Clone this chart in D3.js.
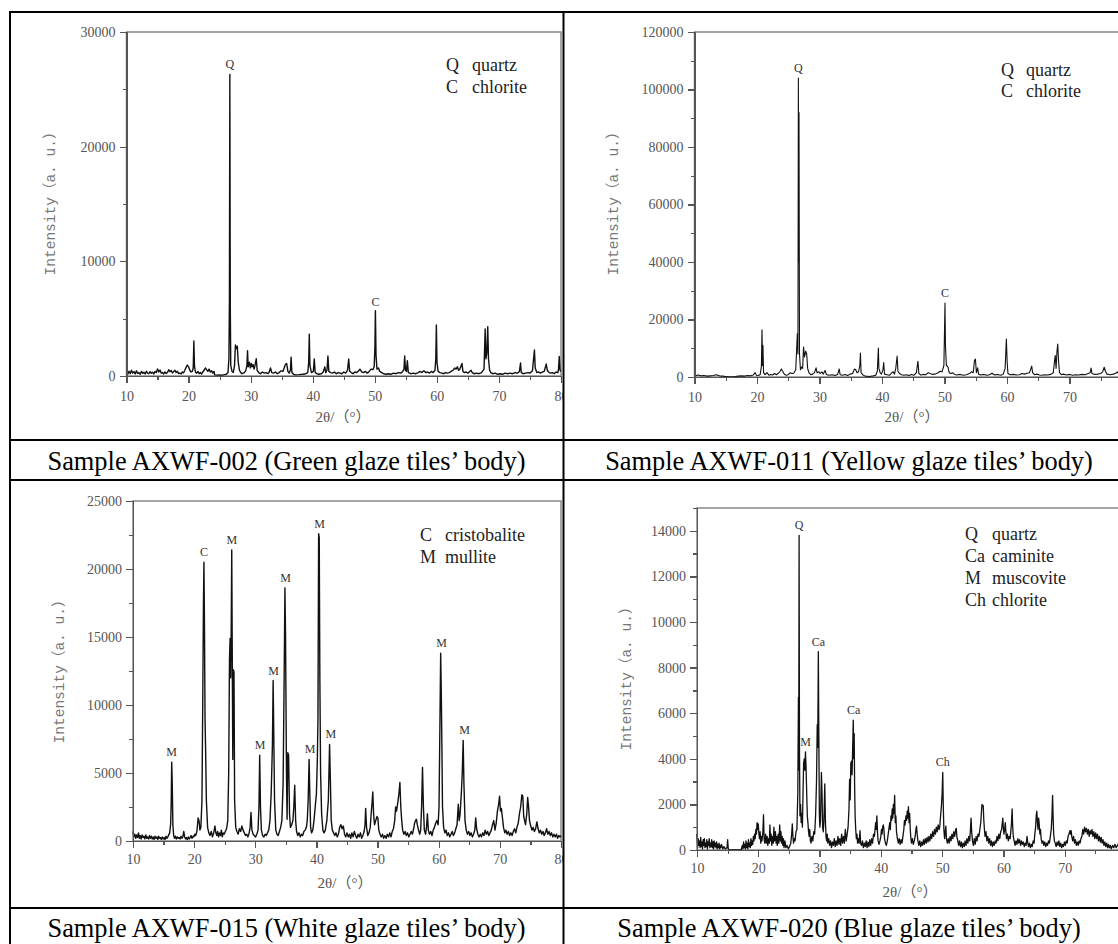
<!DOCTYPE html>
<meta charset="utf-8">
<style>
	body { margin: 0; background: #fff; }
	.axis path,
	.axis line { stroke: #555; stroke-width: 1.2; shape-rendering: crispEdges; }
	.axis text { font-family: "Liberation Serif", serif; font-size: 14px; fill: #555; }
	.trace { fill: none; stroke: #111; stroke-linejoin: round; }
	.frame { fill: none; stroke: #888; stroke-width: 1.5; }
	.ytitle { font-family: "Liberation Mono", "Noto Sans CJK SC", monospace; font-size: 14.5px; fill: #777; }
	.xtitle { font-family: "Liberation Serif", "Noto Sans CJK SC", serif; font-size: 15px; fill: #555; }
	.legend { font-family: "Liberation Serif", serif; font-size: 18px; fill: #222; }
	.mark { font-family: "Liberation Serif", serif; font-size: 12px; fill: #333; text-anchor: middle; }
	.caption { font-family: "Liberation Serif", serif; font-size: 26.4px; fill: #000; text-anchor: middle; }
	.rule { stroke: #000; stroke-width: 2; }
</style>

<div id="chart"></div>

<script src="https://d3js.org/d3.v7.min.js"></script>

<script>
	// captions under each pattern
	var captions = [
		"Sample AXWF-002 (Green glaze tiles\u2019 body)",
		"Sample AXWF-011 (Yellow glaze tiles\u2019 body)",
		"Sample AXWF-015 (White glaze tiles\u2019 body)",
		"Sample AXWF-020 (Blue glaze tiles\u2019 body)"
	];

	var xTicks = [10, 20, 30, 40, 50, 60, 70, 80];
	var yTicks002 = [0, 10000, 20000, 30000];
	var yTicks011 = [0, 20000, 40000, 60000, 80000, 100000, 120000];
	var yTicks015 = [0, 5000, 10000, 15000, 20000, 25000];
	var yTicks020 = [0, 2000, 4000, 6000, 8000, 10000, 12000, 14000];

	var legend002 = [["Q", "quartz"], ["C", "chlorite"]];
	var legend011 = [["Q", "quartz"], ["C", "chlorite"]];
	var legend015 = [["C", "cristobalite"], ["M", "mullite"]];
	var legend020 = [["Q", "quartz"], ["Ca", "caminite"], ["M", "muscovite"], ["Ch", "chlorite"]];

	// peak labels: [phase, 2theta, intensity of peak top]
	var marks002 = [["Q", 26.65, 26300], ["C", 50.1, 5600]];
	var marks011 = [["Q", 26.62, 104000], ["C", 50.08, 25700]];
	var marks015 = [["M", 16.33, 5800], ["C", 21.6, 20500], ["M", 26.15, 21400], ["M", 30.8, 6300],
		["M", 33.0, 11800], ["M", 34.95, 18600], ["M", 38.95, 6000], ["M", 40.5, 22600],
		["M", 42.35, 7100], ["M", 60.45, 13800], ["M", 64.25, 7400]];
	var marks020 = [["Q", 26.66, 13800], ["M", 27.7, 4300], ["Ca", 29.8, 8700], ["Ca", 35.55, 5700], ["Ch", 50.1, 3400]];

	// diffraction patterns: [2theta, intensity]
	var xrd002 = [[10.0,350],[10.2,150],[10.4,420],[10.6,200],[10.8,500],[11.0,250],[11.2,380],[11.4,180],[11.6,450],[11.8,220],[12.0,300],[12.2,150],[12.4,400],[12.6,230],[12.8,330],[13.0,180],[13.2,420],[13.4,260],[13.6,200],[13.8,380],[14.0,240],[14.2,330],[14.4,180],[14.6,400],[14.8,300],[15.0,620],[15.2,350],[15.4,520],[15.6,250],[15.8,300],[16.0,180],[16.2,350],[16.4,220],[16.6,300],[16.8,550],[17.0,380],[17.2,480],[17.4,260],[17.6,400],[17.8,500],[18.0,300],[18.2,420],[18.4,200],[18.6,260],[18.8,180],[19.0,350],[19.2,280],[19.4,500],[19.6,750],[19.8,950],[20.0,800],[20.2,500],[20.4,350],[20.6,400],[20.75,700],[20.85,3050],[20.95,900],[21.1,350],[21.3,250],[21.5,400],[21.7,200],[21.9,300],[22.1,180],[22.3,350],[22.5,500],[22.7,700],[22.9,550],[23.1,400],[23.3,600],[23.5,350],[23.7,450],[23.9,250],[24.1,400],[24.2,100],[24.6,80],[25.0,100],[25.4,80],[25.8,120],[26.1,150],[26.35,300],[26.5,1500],[26.58,6500],[26.65,26300],[26.72,6000],[26.8,900],[27.0,400],[27.2,300],[27.4,900],[27.55,2700],[27.7,2400],[27.85,2600],[28.0,1200],[28.2,500],[28.4,300],[28.6,200],[28.8,250],[29.0,300],[29.2,450],[29.4,900],[29.5,2200],[29.6,800],[29.8,1200],[29.95,700],[30.1,1100],[30.25,800],[30.4,1000],[30.55,600],[30.7,900],[30.9,1500],[31.05,500],[31.3,300],[31.6,200],[31.9,350],[32.2,250],[32.5,300],[32.8,200],[33.0,350],[33.2,700],[33.4,300],[33.7,250],[34.0,350],[34.3,200],[34.6,300],[34.9,450],[35.2,400],[35.4,700],[35.6,1000],[35.8,1100],[36.0,400],[36.2,250],[36.4,500],[36.52,1650],[36.65,300],[36.9,150],[37.2,100],[37.8,120],[38.4,150],[38.9,200],[39.2,300],[39.35,1200],[39.45,3650],[39.55,900],[39.8,300],[40.1,400],[40.25,1480],[40.4,300],[40.7,200],[41.0,150],[41.4,200],[41.7,350],[41.95,800],[42.1,300],[42.3,500],[42.45,1740],[42.6,400],[42.9,300],[43.2,250],[43.5,350],[43.8,200],[44.1,300],[44.4,250],[44.7,200],[45.0,350],[45.3,250],[45.6,500],[45.8,1480],[45.95,400],[46.2,300],[46.5,200],[46.8,350],[47.1,300],[47.4,450],[47.6,600],[47.9,350],[48.2,300],[48.5,400],[48.8,250],[49.1,400],[49.4,600],[49.7,550],[49.9,800],[50.02,2500],[50.1,5700],[50.2,1800],[50.35,600],[50.6,700],[50.8,400],[51.1,300],[51.4,200],[51.8,150],[52.2,200],[52.6,150],[53.0,250],[53.4,200],[53.8,300],[54.2,250],[54.5,400],[54.7,600],[54.82,1740],[54.95,500],[55.1,400],[55.25,1330],[55.4,300],[55.8,200],[56.2,250],[56.6,200],[57.0,300],[57.3,400],[57.6,300],[57.9,450],[58.2,300],[58.5,350],[58.8,250],[59.1,400],[59.4,300],[59.7,500],[59.83,1500],[59.92,4450],[60.02,1200],[60.2,400],[60.5,300],[60.8,250],[61.1,200],[61.4,300],[61.7,250],[62.0,300],[62.3,400],[62.6,500],[62.9,700],[63.1,600],[63.3,800],[63.5,500],[63.7,600],[64.05,1100],[64.2,400],[64.4,300],[64.7,350],[65.0,250],[65.2,350],[65.5,500],[65.7,300],[66.0,200],[66.4,250],[66.8,200],[67.2,300],[67.6,600],[67.78,4100],[67.9,1500],[68.05,2000],[68.2,4300],[68.32,1500],[68.5,500],[68.7,300],[69.0,200],[69.4,250],[69.8,150],[70.2,200],[70.6,150],[71.0,250],[71.4,200],[71.8,250],[72.2,200],[72.6,300],[73.0,250],[73.3,400],[73.48,1130],[73.6,300],[73.9,200],[74.3,250],[74.7,300],[75.0,250],[75.4,450],[75.72,2270],[75.85,700],[76.1,300],[76.4,350],[76.7,250],[77.0,350],[77.3,400],[77.62,1050],[77.8,500],[78.0,350],[78.3,250],[78.6,300],[78.9,200],[79.2,350],[79.5,300],[79.6,600],[79.72,1700],[79.85,500],[80.0,400]];

	var xrd011 = [[10.0,800],[10.3,500],[10.6,700],[11.0,400],[11.5,500],[12.0,300],[12.5,400],[13.0,500],[13.5,800],[14.0,400],[14.5,300],[15.0,200],[15.5,100],[16.0,100],[16.5,150],[17.0,300],[17.5,400],[18.0,300],[18.5,500],[19.0,400],[19.4,700],[19.7,1500],[19.9,600],[20.2,500],[20.5,800],[20.7,3500],[20.8,16400],[20.88,4000],[20.95,11000],[21.05,1500],[21.3,800],[21.6,1500],[21.9,600],[22.2,900],[22.5,700],[22.8,1200],[23.1,800],[23.4,1300],[23.7,2000],[23.9,2800],[24.1,2000],[24.4,900],[24.7,600],[25.0,800],[25.3,1500],[25.6,1200],[25.9,1400],[26.2,2500],[26.45,15000],[26.55,8000],[26.62,104000],[26.68,40000],[26.72,92000],[26.8,8000],[26.95,2500],[27.15,3500],[27.3,3000],[27.45,10400],[27.6,7000],[27.8,9000],[27.95,8000],[28.1,3000],[28.3,1500],[28.6,800],[28.9,1000],[29.2,1500],[29.45,3200],[29.6,1500],[29.9,1800],[30.1,1200],[30.4,1800],[30.6,1000],[30.9,2300],[31.1,900],[31.5,600],[32.0,800],[32.5,500],[32.9,900],[33.15,2800],[33.3,800],[33.7,600],[34.1,900],[34.5,500],[34.9,1000],[35.3,1200],[35.6,2800],[35.8,2500],[36.0,1500],[36.25,1800],[36.45,4000],[36.55,8300],[36.65,1500],[36.9,800],[37.3,300],[38.0,200],[38.6,400],[39.0,600],[39.25,2000],[39.42,10100],[39.5,3000],[39.7,1500],[39.9,1000],[40.15,2500],[40.27,5000],[40.4,1000],[40.8,800],[41.2,600],[41.6,1500],[41.8,1800],[42.0,1000],[42.2,3000],[42.42,7300],[42.55,2000],[42.8,1200],[43.1,800],[43.5,600],[43.9,800],[44.3,500],[44.7,900],[45.1,600],[45.5,1500],[45.75,5500],[45.9,1200],[46.2,700],[46.6,900],[47.0,800],[47.4,1500],[47.7,1200],[48.1,900],[48.5,1000],[48.9,1400],[49.3,2000],[49.6,1800],[49.9,4000],[50.08,25700],[50.15,11000],[50.3,4000],[50.55,3500],[50.75,1500],[51.0,1200],[51.3,1500],[51.6,900],[52.0,700],[52.5,900],[53.0,600],[53.5,800],[54.0,1200],[54.3,1800],[54.6,1500],[54.8,5800],[54.95,6200],[55.1,1500],[55.3,3200],[55.45,1000],[55.8,700],[56.3,900],[56.8,600],[57.2,800],[57.6,1300],[58.0,700],[58.5,900],[59.0,600],[59.4,1000],[59.7,3000],[59.9,13200],[60.02,5500],[60.15,1200],[60.5,800],[61.0,900],[61.5,700],[62.0,800],[62.4,1200],[62.8,1000],[63.2,1300],[63.6,1500],[63.95,3800],[64.1,1500],[64.4,800],[64.8,1000],[65.2,700],[65.6,600],[66.0,800],[66.5,700],[67.0,900],[67.4,1500],[67.6,5500],[67.72,7500],[67.85,3000],[68.0,9000],[68.12,11500],[68.25,5500],[68.4,1500],[68.7,800],[69.0,1000],[69.5,700],[70.0,900],[70.5,600],[71.0,800],[71.5,700],[72.0,900],[72.5,800],[73.0,1200],[73.3,1500],[73.45,3100],[73.6,1200],[74.0,900],[74.5,1000],[75.0,1200],[75.3,1800],[75.55,3400],[75.75,2000],[76.0,1000],[76.5,800],[77.0,1000],[77.4,1300],[77.65,1800],[77.9,1000],[78.3,900],[78.8,800],[79.3,1200],[79.6,2000],[79.85,2800],[80.0,1000]];

	var xrd015 = [[10.0,700],[10.15,300],[10.3,500],[10.45,200],[10.6,450],[10.75,250],[10.9,600],[11.05,200],[11.2,400],[11.35,150],[11.5,450],[11.65,250],[11.8,350],[11.95,150],[12.1,450],[12.25,200],[12.4,300],[12.55,150],[12.7,400],[12.85,200],[13.0,350],[13.15,150],[13.3,300],[13.45,100],[13.6,350],[13.75,200],[13.9,300],[14.05,100],[14.2,350],[14.35,200],[14.5,250],[14.65,100],[14.8,300],[14.95,150],[15.1,250],[15.25,100],[15.4,350],[15.55,200],[15.7,300],[15.85,450],[16.0,600],[16.15,1200],[16.25,2800],[16.33,5800],[16.42,4200],[16.52,1200],[16.65,400],[16.8,200],[16.95,350],[17.1,150],[17.25,300],[17.4,200],[17.55,250],[17.7,150],[17.85,350],[18.0,200],[18.15,300],[18.3,700],[18.45,300],[18.6,150],[18.75,250],[18.9,100],[19.05,300],[19.2,150],[19.35,250],[19.5,400],[19.65,200],[19.8,350],[19.95,300],[20.1,500],[20.25,400],[20.45,700],[20.65,1700],[20.8,1500],[20.95,800],[21.1,1000],[21.28,3000],[21.42,11000],[21.52,17300],[21.6,20500],[21.68,16500],[21.78,9000],[21.88,6600],[22.0,3000],[22.2,1000],[22.4,600],[22.6,400],[22.8,700],[23.0,300],[23.2,600],[23.4,1100],[23.55,600],[23.7,400],[23.85,700],[24.0,300],[24.15,600],[24.3,400],[24.45,800],[24.6,300],[24.75,600],[24.9,500],[25.1,700],[25.3,900],[25.5,1500],[25.65,5000],[25.78,13300],[25.88,14900],[25.98,12000],[26.07,16000],[26.15,21400],[26.22,15000],[26.32,6000],[26.42,12600],[26.52,12400],[26.62,3000],[26.8,1000],[27.0,700],[27.2,500],[27.4,900],[27.6,700],[27.8,1100],[28.0,800],[28.2,600],[28.4,400],[28.6,500],[28.8,300],[29.0,600],[29.15,1000],[29.3,2100],[29.45,800],[29.65,500],[29.85,400],[30.05,300],[30.25,500],[30.45,800],[30.6,2500],[30.72,6300],[30.85,2500],[31.0,800],[31.2,400],[31.4,300],[31.6,500],[31.8,400],[32.0,600],[32.2,800],[32.4,1500],[32.6,3500],[32.8,7000],[32.92,11800],[33.02,8000],[33.15,3000],[33.35,800],[33.55,500],[33.75,400],[33.95,700],[34.15,1000],[34.35,1500],[34.55,4200],[34.72,12000],[34.85,18600],[34.95,15000],[35.1,5000],[35.2,1600],[35.32,6500],[35.45,6300],[35.6,2000],[35.75,1000],[35.95,1200],[36.15,1500],[36.3,2500],[36.45,4100],[36.6,1500],[36.75,700],[36.95,400],[37.15,600],[37.35,300],[37.55,500],[37.75,400],[37.95,700],[38.15,800],[38.35,1000],[38.5,1500],[38.65,3000],[38.8,6000],[38.92,3500],[39.05,1000],[39.2,600],[39.4,800],[39.6,1500],[39.8,2500],[40.0,3500],[40.15,6000],[40.25,9000],[40.36,22600],[40.46,22300],[40.56,12000],[40.68,5000],[40.85,2000],[41.05,800],[41.25,600],[41.45,800],[41.7,1500],[41.95,3000],[42.15,7100],[42.28,4500],[42.42,1500],[42.6,800],[42.8,600],[43.0,400],[43.2,600],[43.4,300],[43.6,500],[43.8,1000],[44.0,1200],[44.2,900],[44.4,1100],[44.6,500],[44.8,300],[45.0,600],[45.2,300],[45.4,500],[45.6,200],[45.8,600],[46.0,300],[46.2,700],[46.4,400],[46.6,200],[46.8,500],[47.0,300],[47.2,600],[47.4,200],[47.6,400],[47.8,700],[47.95,1200],[48.05,2400],[48.2,1000],[48.4,400],[48.6,600],[48.8,1000],[48.95,2000],[49.1,2800],[49.22,3600],[49.35,2000],[49.5,1200],[49.7,1500],[49.9,1800],[50.05,1700],[50.2,800],[50.4,500],[50.6,300],[50.8,500],[51.0,200],[51.2,400],[51.4,200],[51.6,500],[51.8,300],[52.0,600],[52.2,300],[52.4,700],[52.6,900],[52.8,1500],[52.95,2500],[53.1,2200],[53.3,2800],[53.5,3500],[53.65,4300],[53.8,2500],[53.95,1500],[54.1,800],[54.3,500],[54.5,700],[54.7,400],[54.9,600],[55.1,300],[55.3,500],[55.5,700],[55.7,500],[55.9,900],[56.05,1300],[56.2,1500],[56.35,1600],[56.5,1200],[56.7,800],[56.9,500],[57.05,800],[57.2,2500],[57.35,5400],[57.5,2500],[57.65,800],[57.85,500],[58.0,1000],[58.15,2000],[58.3,800],[58.5,500],[58.7,700],[58.9,400],[59.1,800],[59.3,1000],[59.5,1300],[59.7,1500],[59.9,1200],[60.05,2500],[60.2,8700],[60.32,13800],[60.42,11000],[60.52,7000],[60.62,2500],[60.8,1000],[61.0,600],[61.2,800],[61.4,400],[61.6,600],[61.8,300],[62.0,500],[62.2,700],[62.4,400],[62.6,600],[62.8,900],[63.0,1200],[63.2,2700],[63.35,1500],[63.5,2000],[63.7,3500],[63.85,5000],[64.0,7400],[64.12,4300],[64.3,1500],[64.5,800],[64.7,500],[64.9,700],[65.1,400],[65.3,600],[65.5,300],[65.7,500],[65.9,800],[66.05,1700],[66.2,900],[66.4,500],[66.6,300],[66.8,500],[67.0,300],[67.2,600],[67.4,400],[67.6,800],[67.8,500],[68.0,700],[68.2,400],[68.4,600],[68.6,800],[68.8,1200],[69.0,1500],[69.2,800],[69.4,1300],[69.6,2200],[69.8,2700],[69.95,3300],[70.1,2200],[70.25,2400],[70.4,1800],[70.6,1000],[70.8,600],[71.0,800],[71.2,500],[71.4,700],[71.6,400],[71.8,600],[72.0,400],[72.2,700],[72.4,900],[72.6,600],[72.8,1000],[73.0,1300],[73.2,2000],[73.4,2500],[73.6,3400],[73.75,3300],[73.9,1800],[74.05,1500],[74.2,1200],[74.4,2000],[74.55,3200],[74.68,2600],[74.85,1500],[75.05,1100],[75.25,800],[75.45,1000],[75.65,700],[75.85,900],[76.05,1400],[76.25,900],[76.45,600],[76.65,800],[76.85,500],[77.05,700],[77.25,400],[77.45,600],[77.65,900],[77.85,500],[78.05,700],[78.25,400],[78.45,600],[78.65,300],[78.85,500],[79.05,300],[79.25,500],[79.45,200],[79.65,400],[79.85,300],[80.0,400]];

	var xrd020 = [[10.0,700],[10.1,100],[10.2,500],[10.3,200],[10.4,400],[10.5,100],[10.6,550],[10.7,150],[10.8,350],[10.9,50],[11.0,450],[11.1,200],[11.2,500],[11.3,100],[11.4,300],[11.5,150],[11.6,450],[11.7,50],[11.8,350],[11.9,200],[12.0,500],[12.1,100],[12.2,300],[12.3,150],[12.4,450],[12.5,100],[12.6,350],[12.7,50],[12.8,400],[12.9,150],[13.0,300],[13.1,100],[13.2,350],[13.3,50],[13.4,250],[13.5,100],[13.6,300],[13.7,50],[13.8,200],[13.9,100],[14.0,250],[14.2,50],[14.4,150],[14.6,50],[14.9,100],[15.0,450],[15.1,50],[15.3,0],[17.2,0],[17.4,200],[17.5,50],[17.6,350],[17.7,100],[17.8,250],[17.9,50],[18.0,400],[18.1,100],[18.2,300],[18.3,50],[18.4,450],[18.5,150],[18.6,300],[18.7,100],[18.8,500],[18.9,200],[19.0,400],[19.1,250],[19.2,600],[19.3,400],[19.4,700],[19.5,500],[19.6,900],[19.7,700],[19.8,1200],[19.9,900],[20.0,1150],[20.1,700],[20.2,500],[20.3,800],[20.4,300],[20.5,600],[20.6,400],[20.75,800],[20.85,1550],[20.95,500],[21.05,300],[21.2,700],[21.3,300],[21.45,600],[21.55,200],[21.7,500],[21.8,300],[21.9,1100],[22.0,400],[22.1,700],[22.2,200],[22.35,600],[22.45,300],[22.55,1000],[22.65,400],[22.8,800],[22.9,300],[23.0,600],[23.1,200],[23.25,700],[23.35,300],[23.5,1100],[23.6,400],[23.7,800],[23.8,300],[23.9,600],[24.0,200],[24.1,500],[24.2,100],[24.35,400],[24.5,100],[24.7,200],[24.9,50],[25.1,150],[25.3,300],[25.45,700],[25.55,1150],[25.65,600],[25.75,300],[25.9,500],[26.0,400],[26.15,800],[26.3,900],[26.45,2500],[26.55,6700],[26.6,3500],[26.66,13800],[26.72,4500],[26.8,1500],[26.9,2000],[27.0,1200],[27.1,1600],[27.2,1000],[27.3,2500],[27.4,3800],[27.5,4000],[27.6,3500],[27.7,4300],[27.8,3600],[27.9,2500],[28.0,1500],[28.1,1200],[28.2,800],[28.3,600],[28.4,900],[28.5,400],[28.6,300],[28.75,600],[28.9,400],[29.05,800],[29.2,700],[29.35,1500],[29.5,3000],[29.62,5500],[29.7,4500],[29.8,8700],[29.88,5000],[29.97,1500],[30.05,1000],[30.15,1300],[30.3,3400],[30.4,2500],[30.5,1000],[30.6,800],[30.7,1200],[30.85,2900],[30.95,1300],[31.05,600],[31.15,400],[31.25,700],[31.35,300],[31.5,500],[31.65,200],[31.8,400],[31.95,100],[32.1,350],[32.25,200],[32.4,500],[32.55,150],[32.7,400],[32.85,200],[33.0,600],[33.15,250],[33.3,500],[33.45,200],[33.6,700],[33.75,300],[33.9,600],[34.05,300],[34.2,900],[34.35,400],[34.5,700],[34.65,1000],[34.8,1800],[34.9,3100],[35.0,2200],[35.1,3800],[35.2,3900],[35.3,3300],[35.4,4500],[35.5,5700],[35.58,4000],[35.65,5100],[35.72,2800],[35.8,1500],[35.9,900],[36.0,500],[36.1,700],[36.2,300],[36.3,500],[36.45,300],[36.6,850],[36.7,300],[36.85,200],[37.0,400],[37.15,100],[37.3,300],[37.45,150],[37.6,400],[37.75,100],[37.9,350],[38.05,150],[38.2,450],[38.35,200],[38.5,500],[38.65,300],[38.8,700],[38.95,600],[39.05,900],[39.15,1200],[39.25,900],[39.35,1500],[39.45,800],[39.55,400],[39.7,250],[39.85,400],[40.0,600],[40.1,900],[40.2,700],[40.3,1000],[40.4,1100],[40.5,900],[40.6,500],[40.75,300],[40.9,200],[41.05,400],[41.2,700],[41.35,1000],[41.45,1200],[41.55,900],[41.65,1500],[41.75,1300],[41.85,1800],[41.95,1400],[42.05,2000],[42.15,1600],[42.25,2400],[42.35,1200],[42.45,1500],[42.55,800],[42.7,500],[42.85,300],[43.0,500],[43.15,250],[43.3,450],[43.45,300],[43.6,600],[43.75,900],[43.85,1300],[43.95,1100],[44.1,1500],[44.2,1300],[44.3,1700],[44.4,1400],[44.5,1900],[44.6,1200],[44.7,1600],[44.8,900],[44.9,500],[45.0,300],[45.15,500],[45.3,250],[45.45,400],[45.6,600],[45.72,900],[45.82,1050],[45.92,700],[46.05,400],[46.2,200],[46.35,400],[46.5,150],[46.65,350],[46.8,200],[46.95,450],[47.1,250],[47.25,500],[47.4,300],[47.55,550],[47.7,350],[47.85,600],[48.0,400],[48.15,700],[48.3,500],[48.45,800],[48.6,600],[48.75,900],[48.9,700],[49.05,1000],[49.2,800],[49.35,1100],[49.5,900],[49.6,1000],[49.75,1500],[49.9,2000],[50.0,2500],[50.1,3400],[50.18,2000],[50.28,900],[50.4,500],[50.5,800],[50.6,1050],[50.7,500],[50.85,300],[51.0,500],[51.15,300],[51.3,600],[51.45,400],[51.6,700],[51.75,500],[51.9,800],[52.05,600],[52.2,900],[52.3,950],[52.4,600],[52.55,400],[52.7,200],[52.85,400],[53.0,150],[53.15,350],[53.3,100],[53.45,300],[53.6,150],[53.75,400],[53.9,200],[54.05,500],[54.2,300],[54.35,600],[54.5,400],[54.62,900],[54.72,1400],[54.82,800],[54.95,400],[55.1,200],[55.25,500],[55.4,250],[55.55,600],[55.7,400],[55.85,700],[56.0,600],[56.15,900],[56.3,1200],[56.42,1700],[56.5,2000],[56.6,1900],[56.7,1950],[56.8,1300],[56.9,900],[57.0,600],[57.15,800],[57.3,400],[57.45,600],[57.6,300],[57.75,500],[57.9,200],[58.05,400],[58.2,150],[58.35,350],[58.5,200],[58.65,400],[58.8,300],[58.95,600],[59.1,400],[59.25,700],[59.4,500],[59.55,800],[59.7,900],[59.82,1200],[59.9,1400],[59.98,1000],[60.08,700],[60.2,900],[60.3,1200],[60.4,800],[60.5,500],[60.65,700],[60.8,400],[60.95,600],[61.1,500],[61.2,800],[61.32,1200],[61.42,1800],[61.5,1100],[61.6,600],[61.75,400],[61.9,200],[62.05,400],[62.2,250],[62.35,500],[62.5,300],[62.65,450],[62.8,200],[62.95,400],[63.1,250],[63.25,350],[63.4,150],[63.55,300],[63.7,200],[63.85,600],[63.95,350],[64.1,150],[64.25,300],[64.4,100],[64.55,250],[64.7,150],[64.85,400],[65.0,300],[65.12,700],[65.25,1000],[65.35,1500],[65.45,1700],[65.55,1200],[65.65,900],[65.75,1400],[65.85,1100],[65.95,700],[66.05,900],[66.15,500],[66.3,300],[66.45,400],[66.6,200],[66.75,350],[66.9,150],[67.05,300],[67.2,200],[67.35,400],[67.5,300],[67.65,600],[67.8,900],[67.92,1500],[68.02,2400],[68.1,1500],[68.2,700],[68.32,400],[68.45,300],[68.6,150],[68.75,350],[68.9,200],[69.05,400],[69.2,150],[69.35,300],[69.5,100],[69.65,250],[69.8,150],[69.95,350],[70.1,200],[70.25,400],[70.4,300],[70.55,600],[70.7,700],[70.85,850],[70.95,700],[71.05,850],[71.15,600],[71.3,400],[71.45,600],[71.6,300],[71.75,450],[71.9,200],[72.05,350],[72.2,200],[72.35,400],[72.5,300],[72.65,500],[72.8,600],[72.95,900],[73.1,700],[73.25,1000],[73.4,800],[73.55,950],[73.7,700],[73.85,900],[74.0,600],[74.15,850],[74.3,700],[74.45,900],[74.6,600],[74.75,800],[74.9,500],[75.05,750],[75.2,500],[75.35,700],[75.5,400],[75.65,600],[75.8,350],[75.95,550],[76.1,300],[76.25,450],[76.4,200],[76.55,350],[76.7,150],[76.85,300],[77.0,100],[77.15,250],[77.3,100],[77.45,200],[77.6,50],[77.8,200],[78.0,100],[78.2,250],[78.4,100],[78.6,200],[78.8,300],[79.0,150],[79.3,250],[79.6,150],[80.0,200]];

	var W = 1118, H = 944;

	var svg = d3.select("#chart")
			.append("svg")
			.attr("width", W)
			.attr("height", H);

	svg.append("rect").attr("width", W).attr("height", H).attr("fill", "#fff");

	// layout of the four table cells
	var panels = [
		{ id: "p002", data: xrd002, marks: marks002, legend: legend002, caption: captions[0], yTicks: yTicks002,
			yMax: 30000, minor: 5000, cell: [10, 12, 553, 428], xr: [126.5, 561], yr: [376, 32],
			yTitle: [50, 200], xTitle: [343, 422], leg: [446, 472, 71, 22], lw: 1.4, cap: [286.5, 470], pad: 8 },
		{ id: "p011", data: xrd011, marks: marks011, legend: legend011, caption: captions[1], yTicks: yTicks011,
			yMax: 120000, minor: 10000, cell: [563, 12, 600, 428], xr: [694.5, 1132], yr: [377, 32],
			yTitle: [613, 200], xTitle: [912, 422], leg: [1001, 1026, 76, 21], lw: 1.1, cap: [849, 470], pad: 8 },
		{ id: "p015", data: xrd015, marks: marks015, legend: legend015, caption: captions[2], yTicks: yTicks015,
			yMax: 25000, minor: 2500, cell: [10, 480, 553, 428], xr: [133, 561], yr: [841, 501],
			yTitle: [59, 668], xTitle: [345, 888], leg: [420, 445, 541, 22], lw: 1.4, cap: [286.5, 937], pad: 6 },
		{ id: "p020", data: xrd020, marks: marks020, legend: legend020, caption: captions[3], yTicks: yTicks020,
			yMax: 15000, minor: 1000, cell: [563, 480, 600, 428], xr: [697, 1126], yr: [850, 508],
			yTitle: [626, 675], xTitle: [910, 897], leg: [965, 992, 540, 22], lw: 1.3, cap: [849, 937], pad: 6 }
	];

	panels.forEach(function(p) {
		svg.append("clipPath").attr("id", "clip-" + p.id)
			.append("rect")
			.attr("x", p.cell[0]).attr("y", p.cell[1])
			.attr("width", p.cell[2]).attr("height", p.cell[3]);

		var g = svg.append("g").attr("clip-path", "url(#clip-" + p.id + ")");

		var x = d3.scaleLinear().domain([10, 80]).range(p.xr);
		var y = d3.scaleLinear().domain([0, p.yMax]).range(p.yr);

		g.append("rect")
			.attr("class", "frame")
			.attr("x", p.xr[0]).attr("y", p.yr[1])
			.attr("width", p.xr[1] - p.xr[0]).attr("height", p.yr[0] - p.yr[1]);

		var line = d3.line()
				.x(function(d) { return x(d[0]); })
				.y(function(d) { return y(d[1]); });

		g.append("path")
			.datum(p.data)
			.attr("class", "trace")
			.attr("stroke-width", p.lw)
			.attr("d", line);

		// minor ticks
		g.append("g").attr("class", "axis")
			.attr("transform", "translate(" + p.xr[0] + ",0)")
			.call(d3.axisLeft(y).tickValues(d3.range(0, p.yMax + 1, p.minor)).tickSize(4).tickFormat(""));
		g.append("g").attr("class", "axis")
			.attr("transform", "translate(0," + p.yr[0] + ")")
			.call(d3.axisBottom(x).tickValues(d3.range(15, 80, 10)).tickSize(4).tickFormat(""));

		g.append("g").attr("class", "axis")
			.attr("transform", "translate(" + p.xr[0] + ",0)")
			.call(d3.axisLeft(y).tickValues(p.yTicks).tickSize(7).tickSizeOuter(0).tickPadding(4)
				.tickFormat(d3.format("d")));

		// only the tick labels that fall inside the picture
		var shownX = xTicks.filter(function(t) { return x(t) < W - 8; });
		var xAxis = g.append("g").attr("class", "axis")
			.attr("transform", "translate(0," + p.yr[0] + ")")
			.call(d3.axisBottom(x).tickValues(xTicks).tickSize(7).tickSizeOuter(0).tickPadding(p.pad)
				.tickFormat(d3.format("d")));
		xAxis.selectAll(".tick text")
			.filter(function(d) { return shownX.indexOf(d) < 0; })
			.remove();

		g.append("text")
			.attr("class", "ytitle")
			.attr("text-anchor", "middle")
			.attr("transform", "translate(" + p.yTitle[0] + "," + p.yTitle[1] + ") rotate(-90)")
			.attr("dy", "0.35em")
			.text("Intensity\uff08a. u.\uff09");

		g.append("text")
			.attr("class", "xtitle")
			.attr("text-anchor", "middle")
			.attr("x", p.xTitle[0]).attr("y", p.xTitle[1])
			.text("2\u03b8/\uff08\u00b0\uff09");

		g.selectAll(".mark")
			.data(p.marks)
			.enter().append("text")
			.attr("class", "mark")
			.attr("x", function(d) { return x(d[1]); })
			.attr("y", function(d) { return y(d[2]) - 6; })
			.text(function(d) { return d[0]; });

		var leg = g.selectAll(".leg")
				.data(p.legend)
				.enter().append("g");
		leg.append("text")
			.attr("class", "legend")
			.attr("x", p.leg[0])
			.attr("y", function(d, i) { return p.leg[2] + i * p.leg[3]; })
			.text(function(d) { return d[0]; });
		leg.append("text")
			.attr("class", "legend")
			.attr("x", p.leg[1])
			.attr("y", function(d, i) { return p.leg[2] + i * p.leg[3]; })
			.text(function(d) { return d[1]; });

		svg.append("text")
			.attr("class", "caption")
			.attr("x", p.cap[0]).attr("y", p.cap[1])
			.text(p.caption);
	});

	// table rules
	var rules = svg.append("g").attr("class", "rule");
	rules.append("line").attr("x1", 10).attr("x2", 10).attr("y1", 11).attr("y2", H);
	rules.append("line").attr("x1", 563.5).attr("x2", 563.5).attr("y1", 11).attr("y2", H);
	[12, 440, 480, 908].forEach(function(yy) {
		rules.append("line").attr("x1", 9).attr("x2", W).attr("y1", yy).attr("y2", yy);
	});
</script>
